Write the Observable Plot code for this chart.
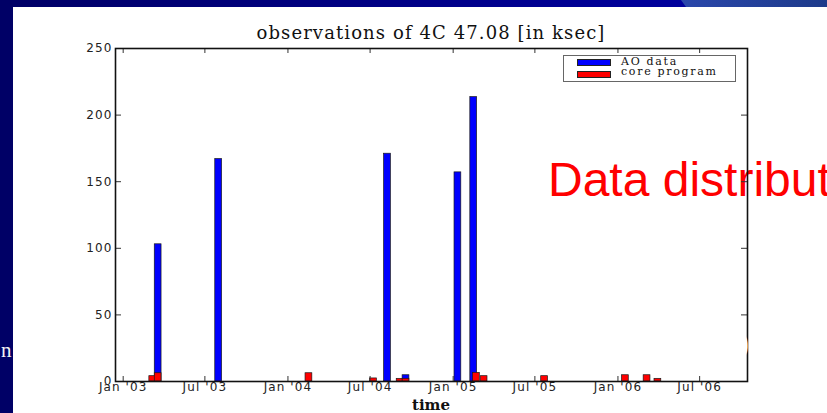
<!DOCTYPE html>
<html><head><meta charset="utf-8">
<script src="https://cdn.jsdelivr.net/npm/d3@7"></script>
<script src="https://cdn.jsdelivr.net/npm/@observablehq/plot@0.6"></script>
<style>
html,body{margin:0;padding:0;background:#fff;}
#page{position:relative;width:827px;height:413px;overflow:hidden;background:#fff;}
#page > *{position:absolute;}
#chart{left:0;top:0;z-index:2;}
.ser{font-family:"DejaVu Serif",serif;color:#111;white-space:pre;}
</style></head><body>
<div id="page">
  <div id="bigtext" style="left:548px;top:156px;font:48px/48px 'Liberation Sans',Arial,sans-serif;color:#ff0000;white-space:pre;z-index:1;">Data distribut</div>
  <div id="chart"></div>
  <div style="left:0;top:0;width:827px;height:7px;background:linear-gradient(to right,#000066 0px,#00009c 680px);z-index:3;"></div>
  <div style="left:680px;top:0;width:147px;height:7px;background:linear-gradient(to right,#2a47ab,#1d3a8a);clip-path:polygon(1px 0,100% 0,100% 100%,6px 100%);z-index:4;"></div>
  <div style="left:0;top:0;width:13px;height:413px;background:#000066;z-index:3;"></div>
  <div style="left:1px;top:340px;font:21px/21px 'Liberation Serif',serif;color:#f2f2f2;z-index:5;">n</div>
  <div style="left:738px;top:327px;font:33px/33px 'Liberation Serif',serif;color:#ffffff;z-index:5;">)</div>
  <div id="title" class="ser" style="left:0;width:862px;text-align:center;top:24px;font-size:18px;line-height:18px;letter-spacing:1.1px;z-index:5;"></div>
  <div id="xlabel" class="ser" style="left:0;width:862px;text-align:center;top:399px;font-size:15px;line-height:13px;font-weight:bold;z-index:5;"></div>
  <div id="legend" style="left:563px;top:55px;width:171px;height:25px;border:1px solid #666;background:#fff;z-index:5;"></div>
</div>
<script>
// ---- data ----
const titleText = "observations of 4C 47.08 [in ksec]";
const xLabelText = "time";
const seriesNames = ["AO data", "core program"];
const seriesColors = ["#0000ff", "#ff0000"];

const aoDates  = ["2003-03-12","2003-07-24","2004-08-01","2004-09-11","2005-01-04","2005-02-08"];
const aoValues = [103, 167, 171, 4.7, 157, 213.5];

const coreDates  = ["2003-02-28","2003-03-12","2004-02-09","2004-07-01","2004-08-29","2004-09-11","2005-02-14","2005-03-03","2005-07-15","2006-01-10","2006-02-27","2006-03-23"];
const coreValues = [4, 6.2, 6.2, 2.3, 2, 2, 6.5, 4, 4, 4.7, 4.7, 2];

const xTickDates  = ["2003-01-01","2003-07-01","2004-01-01","2004-07-01","2005-01-01","2005-07-01","2006-01-01","2006-07-01"];
const xTickLabels = ["Jan '03","Jul '03","Jan '04","Jul '04","Jan '05","Jul '05","Jan '06","Jul '06"];
const yTicks = [0, 50, 100, 150, 200, 250];
const xDomain = ["2002-12-15","2006-10-15"];
const yDomain = [0, 250];

// ---- build ----
const DAY = 86400000, BAR_DAYS = 15;
const toRows = (dates, vals) => dates.map((d, i) => {
  const s = new Date(d + "T00:00:00Z");
  return {start: s, end: new Date(+s + BAR_DAYS * DAY), value: vals[i]};
});
const ao = toRows(aoDates, aoValues);
const core = toRows(coreDates, coreValues);
const xt = xTickDates.map(d => new Date(d + "T00:00:00Z"));
const labelOf = new Map(xt.map((d, i) => [+d, xTickLabels[i]]));

const W = 827, H = 413, ML = 115, MR = 80, MT = 48, MB = 32;
const FW = W - ML - MR, FH = H - MT - MB, TICK = 6;

const chart = Plot.plot({
  width: W, height: H,
  marginLeft: ML, marginRight: MR, marginTop: MT, marginBottom: MB,
  style: {background: "transparent", fontFamily: "'DejaVu Sans', sans-serif", fontSize: "12px", letterSpacing: "1.1px", color: "#222", overflow: "visible"},
  x: {type: "utc", domain: xDomain.map(d => new Date(d + "T00:00:00Z"))},
  y: {domain: yDomain},
  marks: [
    Plot.rect(ao, {x1: "start", x2: "end", y1: 0, y2: "value", fill: seriesColors[0], stroke: "#1a1a1a", strokeWidth: 0.7}),
    Plot.rect(core, {x1: "start", x2: "end", y1: 0, y2: "value", fill: seriesColors[1], stroke: "#1a1a1a", strokeWidth: 0.7}),
    Plot.tickY(yTicks, {y: d => d, insetRight: FW - TICK, stroke: "#333"}),
    Plot.tickY(yTicks, {y: d => d, insetLeft: FW - TICK, stroke: "#333"}),
    Plot.tickX(xt, {x: d => d, insetTop: FH - 5, stroke: "#333"}),
    Plot.tickX(xt, {x: d => d, insetBottom: FH - 5, stroke: "#333"}),
    Plot.axisX({ticks: xt, tickSize: 0, tickPadding: 1, tickFormat: d => labelOf.get(+d), label: null}),
    Plot.axisY({ticks: yTicks, tickSize: 0, tickPadding: 3, label: null}),
    Plot.frame({stroke: "#111", strokeWidth: 1.6})
  ]
});
document.getElementById("chart").appendChild(chart);

document.getElementById("title").textContent = titleText;
document.getElementById("xlabel").textContent = xLabelText;

const leg = document.getElementById("legend");
seriesNames.forEach((name, i) => {
  const sw = document.createElement("div");
  sw.style.cssText = `position:absolute;left:13px;top:${3 + i * 12}px;width:32px;height:5px;background:${seriesColors[i]};border:0.7px solid #222;`;
  leg.appendChild(sw);
  const t = document.createElement("div");
  t.className = "ser";
  t.textContent = name;
  t.style.cssText += `position:absolute;left:57px;top:${1 + i * 10}px;font-size:11px;line-height:10px;letter-spacing:1.7px;`;
  leg.appendChild(t);
});
</script>
</body></html>
